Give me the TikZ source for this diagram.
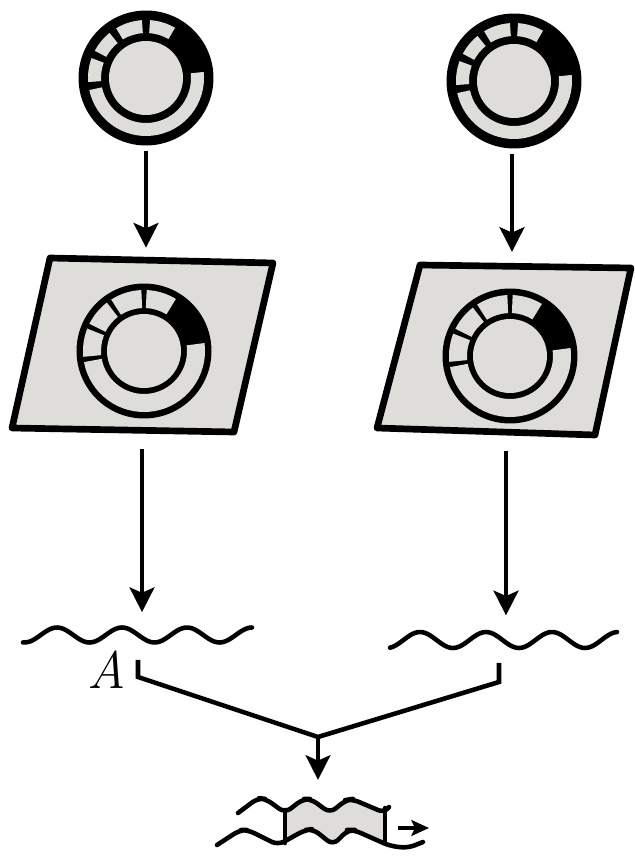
\documentclass[tikz,border=0pt]{standalone}
\usetikzlibrary{arrows.meta}

\definecolor{panel}{RGB}{222,221,218}

\tikzset{
  ink/.style={line width=2.6pt, line cap=round, line join=round},
  flow/.style={line width=2.8pt, -{Stealth[length=14pt,width=14pt,inset=3pt]}},
  dialnode/.style={circle, fill=black, inner sep=0pt, outer sep=0pt, minimum size=2.7cm},
  frame/.style={draw, fill=panel, line width=3.8pt, line join=round}
}

% grey slots of a dial: #1 node, #2/#3 outer/inner slot radius, #4 hub radius,
% #5 half width of a spoke (degrees)
\newcommand{\dialface}[5]{%
  \begin{scope}[shift={(#1.center)}]
    \foreach \a/\b in {-172/10, 56/90, 90/125, 125/156, 156/188}
      \fill[panel] (\a+#5:#3) arc[start angle=\a+#5, end angle=\b-#5, radius=#3]
        -- (\b-#5:#2) arc[start angle=\b-#5, end angle=\a+#5, radius=#2] -- cycle;
    \fill[panel] (0,0) circle (#4);
  \end{scope}}

\begin{document}
\begin{tikzpicture}[x=0.02cm, y=0.02cm]
  \useasboundingbox (0,0) rectangle (635,856);

  % free dials
  \node[dialnode] (dialL) at (146,778) {};
  \node[dialnode] (dialR) at (514,775) {};
  \dialface{dialL}{58}{45}{37}{4}
  \dialface{dialR}{58}{45}{37}{4}

  % frames with bound dials
  \draw[frame] (50,598) -- (273,593) -- (234,424) -- (12,428) -- cycle;
  \draw[frame] (420,591) -- (631,588) -- (595,421) -- (377,428) -- cycle;
  \coordinate (frameLn) at (146,596);
  \coordinate (frameLs) at (142,426);
  \coordinate (frameRn) at (512,590);
  \coordinate (frameRs) at (506,424);
  \node[dialnode] (dialLf) at (144,505) {};
  \node[dialnode] (dialRf) at (510,500) {};
  \dialface{dialLf}{61}{43}{37}{2.5}
  \dialface{dialRf}{61}{43}{37}{2.5}

  % single strands
  \draw[ink] plot[domain=23:252, samples=80, smooth] (\x, {221+7.5*cos(5.538*(\x-57))});
  \draw[ink] plot[domain=390:617, samples=80, smooth] (\x, {216+8*cos(5.4545*(\x-420))});
  \coordinate (waveL) at (142,221);
  \coordinate (waveR) at (506,216);
  \node[font=\fontsize{30}{30}\selectfont\itshape] (labelA) at (107,186) {A};

  \draw[flow, shorten <=3pt, shorten >=7pt] (dialL.south) -- (frameLn);
  \draw[flow, shorten <=3pt, shorten >=8pt] (dialR.south -| frameRn) -- (frameRn);
  \draw[flow, shorten <=11pt, shorten >=13pt] (frameLs) -- (waveL);
  \draw[flow, shorten <=11pt, shorten >=14pt] (frameRs) -- (waveR);

  % joining bracket
  \coordinate (brkL) at (138,196);
  \coordinate (kneeL) at (138,179);
  \coordinate (brkR) at (499,193);
  \coordinate (kneeR) at (499,174);
  \coordinate (join) at (318,119);
  \draw[ink, line cap=butt, line join=miter] (brkL) -- (kneeL) -- (join) -- (kneeR) -- (brkR);

  % paired product
  \coordinate (prodtop) at (318,62);
  \draw[flow, line width=2.4pt, shorten >=8pt] (join) -- (prodtop);
  \fill[panel, rounded corners=3pt] (285,43) -- (303,57) -- (311,57) -- (330,43) -- (346,56)
    -- (352,57) -- (385,43) -- (385,14) -- (354,26) -- (348,26) -- (333,11) -- (313,27)
    -- (305,26) -- (285,14) -- cycle;
  \draw[ink, rounded corners=4pt] (238,43) -- (258,58) -- (266,57) -- (285,43) -- (303,57)
    -- (311,57) -- (330,43) -- (346,56) -- (352,57) -- (385,43) -- (389,49);
  \draw[ink, rounded corners=4pt] (217,11) -- (240,26) -- (248,26) -- (278,11) -- (305,26)
    -- (313,27) -- (333,11) -- (348,26) -- (354,26) -- (390,10) -- (408,8) -- (423,14);
  \draw[ink] (285,46) -- (285,13);
  \draw[ink] (385,48) -- (385,13);
  \coordinate (dirtail) at (398,28);
  \coordinate (dirhead) at (429,28);
  \draw[line width=2.2pt, -{Stealth[length=10pt,width=9pt,inset=2pt]}] (dirtail) -- (dirhead);
\end{tikzpicture}
\end{document}
